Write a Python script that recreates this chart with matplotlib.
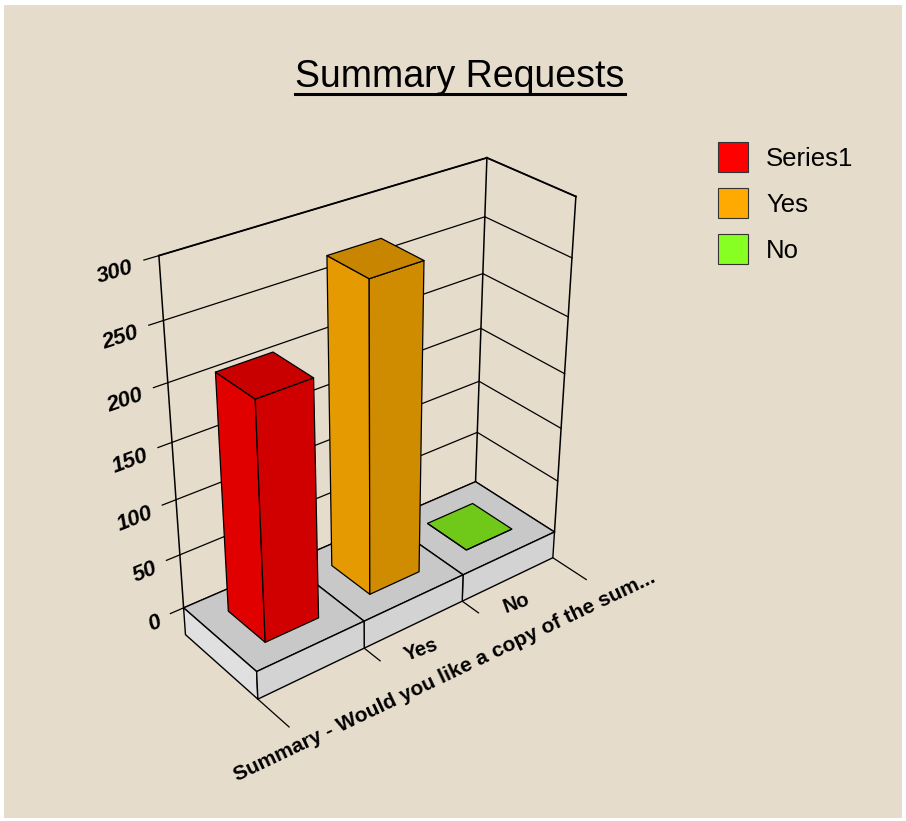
import numpy as np
import matplotlib.pyplot as plt
from matplotlib.patches import Rectangle
from matplotlib.lines import Line2D
from mpl_toolkits.mplot3d import proj3d
from mpl_toolkits.mplot3d.art3d import Poly3DCollection

plt.rcParams['font.family'] = ['Liberation Sans', 'DejaVu Sans']

categories = ["Series1", "Yes", "No"]
values = [211, 274, 0]
tick_labels = ["", "Yes", "No"]
z_ticks = [0, 50, 100, 150, 200, 250, 300]
x_title = "Summary - Would you like a copy of the sum..."
title = "Summary Requests"

legend_colors = ["#ff0000", "#ffaa00", "#88ff22"]
# side (x), front (y), top shades of each bar
bar_shades = [("#e00000", "#d00000", "#c80000"),
              ("#e49a00", "#d08c00", "#c88600"),
              ("#78d418", "#6cc814", "#70c818")]
bg = "#e6dccb"

fig = plt.figure(figsize=(9.06, 8.21), dpi=100, facecolor="white")
fig.add_artist(Rectangle((4 / 906, 3 / 821), 898 / 906, 813 / 821,
                         transform=fig.transFigure, facecolor=bg, edgecolor="none", zorder=-10))

ax = fig.add_axes([-0.098, -0.027, 1.0, 1.0], projection="3d")
ax.set_facecolor("none")
ax.set_axis_off()
ax.computed_zorder = False
ax.set_proj_type("persp", focal_length=0.38)
ax.view_init(elev=30, azim=-128)
n = len(categories)
zmax = z_ticks[-1]
base = -26
ax.set_xlim(0, n)
ax.set_ylim(0, 1)
ax.set_zlim(base, zmax)
ax.set_box_aspect((3, 1, 3.25), zoom=0.702)

lk = dict(color="black", lw=0.9, zorder=1)
# walls and grid
for z in z_ticks:
    ax.plot([0, n], [1, 1], [z, z], **lk)
    ax.plot([n, n], [1, 0], [z, z], **lk)
    ax.plot([0, -0.12], [1, 1], [z, z], **lk)
ax.plot([0, 0], [1, 1], [0, zmax], color="black", lw=1.1, zorder=1)
ax.plot([n, n], [1, 1], [0, zmax], color="black", lw=1.1, zorder=1)
ax.plot([n, n], [0, 0], [0, zmax], color="black", lw=1.1, zorder=1)
ax.plot([0, n], [1, 1], [zmax, zmax], color="black", lw=1.3, zorder=1)
ax.plot([n, n], [1, 0], [zmax, zmax], color="black", lw=1.3, zorder=1)

# category ticks (ends longer)
for i in range(n + 1):
    tl = 0.4 if i in (0, n) else 0.2
    ax.plot([i, i], [0, -tl], [base, base], **lk)

# plinth
plinth = []
pcol = []
for i in range(n):
    plinth.append([(i, 0, 0), (i + 1, 0, 0), (i + 1, 1, 0), (i, 1, 0)])
    pcol.append("#c8c8c8")
    plinth.append([(i, 0, base), (i + 1, 0, base), (i + 1, 0, 0), (i, 0, 0)])
    pcol.append("#d3d3d3")
plinth.append([(0, 0, base), (0, 1, base), (0, 1, 0), (0, 0, 0)])
pcol.append("#e0e0e0")
ax.add_collection3d(Poly3DCollection(plinth, facecolors=pcol, edgecolors="black",
                                     linewidths=1.0, zorder=2))

# bars
for i, v in enumerate(values):
    x0, x1, y0, y1 = i + 0.25, i + 0.75, 0.25, 0.75
    side, front, top = bar_shades[i]
    faces = [[(x0, y0, 0), (x0, y1, 0), (x0, y1, v), (x0, y0, v)],
             [(x0, y0, 0), (x1, y0, 0), (x1, y0, v), (x0, y0, v)],
             [(x0, y0, v), (x1, y0, v), (x1, y1, v), (x0, y1, v)]]
    ax.add_collection3d(Poly3DCollection(faces, facecolors=[side, front, top],
                                         edgecolors="black", linewidths=0.9,
                                         zorder=3 + n - i))

fig.canvas.draw()


def label3d(x, y, z, s, rotation=None, **kw):
    # place flat text at a projected 3D point, turned along the x direction
    M = ax.get_proj()
    xp, yp, _ = proj3d.proj_transform(x, y, z, M)
    if rotation is None:
        x2, y2, _ = proj3d.proj_transform(x + 1, y, z, M)
        p = ax.transData.transform([(xp, yp), (x2, y2)])
        rotation = np.degrees(np.arctan2(p[1, 1] - p[0, 1], p[1, 0] - p[0, 0]))
    return ax.text2D(xp, yp, s, transform=ax.transData, rotation=rotation,
                     rotation_mode="anchor", **kw)


for z in z_ticks:
    label3d(-0.21, 1, z - 3, str(z), ha="right", va="center",
            fontsize=16, fontweight="bold", fontstyle="italic")
for i, lab in enumerate(tick_labels):
    if lab:
        label3d(i + 0.33, -0.29, base, lab, rotation=20, ha="center", va="center",
                fontsize=14.5, fontweight="bold")
label3d(1.27, -0.65, base, x_title, rotation=25.5, ha="center", va="center",
        fontsize=15.1, fontweight="bold")

# title with underline
t = fig.text(460 / 906, 1 - 87 / 821, title, ha="center", va="baseline", fontsize=27)
fig.canvas.draw()
bb = t.get_window_extent()
fig.add_artist(Line2D([bb.x0 / 906, bb.x1 / 906], [1 - 94 / 821, 1 - 94 / 821],
                      transform=fig.transFigure, color="black", lw=2.2))

handles = [Rectangle((0, 0), 1, 1, facecolor=c, edgecolor="#333333", lw=0.8)
           for c in legend_colors]
fig.legend(handles, categories, loc="upper left", bbox_to_anchor=(718 / 906, 1 - 142 / 821),
           frameon=False, fontsize=18.5, handlelength=1.17, handleheight=1.42,
           handletextpad=0.7, labelspacing=0.63, borderpad=0, borderaxespad=0)

fig.savefig("out.png", dpi=100, facecolor="white")
